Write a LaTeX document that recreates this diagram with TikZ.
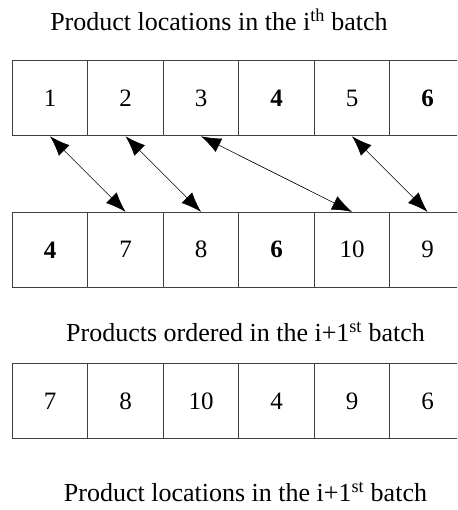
\documentclass[tikz,border=0pt]{standalone}
\usepackage{fontspec}
\setmainfont{Liberation Serif}
\usetikzlibrary{positioning,arrows.meta}

\begin{document}
\begin{tikzpicture}[x=1pt,y=1pt,
		cell/.style={draw=black!75, line width=0.8pt, minimum width=75.5pt,
			minimum height=75pt, inner sep=0pt, font=\fontsize{25}{25}\selectfont},
		title/.style={anchor=base, inner sep=0pt, font=\fontsize{26}{26}\selectfont},
		link/.style={{Latex[length=20pt,width=15pt]}-{Latex[length=20pt,width=15pt]}, line width=0.6pt}]
		\useasboundingbox (0,0) rectangle (457,510);
		\clip (0,0) rectangle (457,510);
		\node[title] (t1) at (219,479) {Product locations in the i\textsuperscript{th} batch};
		\foreach \t [count=\i] in {1,2,3,\textbf{4},5,\textbf{6}}
			\node[cell] (a\i) at ({12.3+75.5*(\i-0.5)},411.6) {\t};
		\foreach \t [count=\i] in {\textbf{4},7,8,\textbf{6},10,9}
			\node[cell] (b\i) at ({12.3+75.5*(\i-0.5)},260.2) {\t};
		\node[title] (t2) at (245.5,168.5) {Products ordered in the i+1\textsuperscript{st} batch};
		\foreach \t [count=\i] in {7,8,10,4,9,6}
			\node[cell] (c\i) at ({12.3+75.5*(\i-0.5)},109) {\t};
		\node[title] (t3) at (245.5,8.5) {Product locations in the i+1\textsuperscript{st} batch};
		\draw[link] (a1.south) -- (b2.north);
		\draw[link] (a2.south) -- (b3.north);
		\draw[link] (a3.south) -- (b5.north);
		\draw[link] (a5.south) -- (b6.north);
	\end{tikzpicture}
\end{document}
